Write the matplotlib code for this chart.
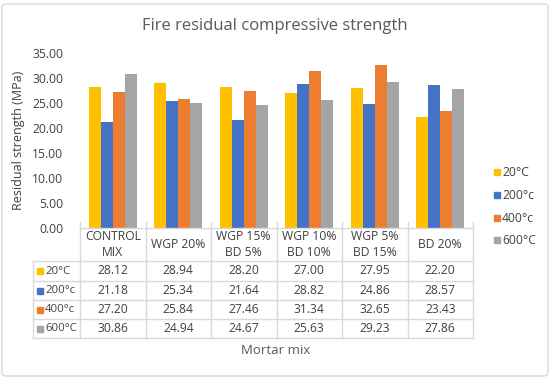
import matplotlib.pyplot as plt
from matplotlib.lines import Line2D
from matplotlib.patches import FancyBboxPatch, Rectangle

plt.rcParams['font.family'] = ['Open Sans', 'DejaVu Sans']

# data
mixes = ["CONTROL\nMIX", "WGP 20%", "WGP 15%\nBD 5%", "WGP 10%\nBD 10%", "WGP 5%\nBD 15%", "BD 20%"]
temps = ["20°C", "200°c", "400°c", "600°C"]
s20 = [28.12, 28.94, 28.20, 27.00, 27.95, 22.20]
s200 = [21.18, 25.34, 21.64, 28.82, 24.86, 28.57]
s400 = [27.20, 25.84, 27.46, 31.34, 32.65, 23.43]
s600 = [30.86, 24.94, 24.67, 25.63, 29.23, 27.86]
series = [s20, s200, s400, s600]
colors = ["#FFC000", "#4472C4", "#ED7D31", "#A5A5A5"]

W, H = 550, 378
fig = plt.figure(figsize=(W / 100, H / 100), dpi=100)


def fx(x):
    return x / W


def fy(y):
    return 1 - y / H


txt = "#404040"
grid = "#D9D9D9"
fs = 8.7

# outer border
fig.add_artist(FancyBboxPatch((fx(2), fy(376)), fx(546), 372 / H,
                              boxstyle="round,pad=0,rounding_size=0.008",
                              transform=fig.transFigure, fill=False,
                              edgecolor="#D9D9D9", linewidth=1))

left, right, top, bottom = 80, 473, 53, 228
ax = fig.add_axes([fx(left), fy(bottom), (right - left) / W, (bottom - top) / H])
bw = 0.185
for k, (vals, c) in enumerate(zip(series, colors)):
    xs = [i + 0.5 + (k - 1.5) * bw for i in range(len(mixes))]
    ax.bar(xs, vals, width=bw, color=c, label=temps[k])
ax.set_xlim(0, len(mixes))
ax.set_ylim(0, 35)
ax.set_yticks(range(0, 36, 5))
ax.set_yticklabels([f"{v:.2f}" for v in range(0, 36, 5)], fontsize=fs, color=txt)
ax.tick_params(axis="y", length=0, pad=12)
ax.set_xticks([])
for s in ax.spines.values():
    s.set_visible(False)
ax.set_ylabel("Residual strength (MPa)", fontsize=9, color=txt, labelpad=5)

fig.text(0.5, fy(26), "Fire residual compressive strength", ha="center", va="center",
         fontsize=12, color="#595959")

# data table
cols = [left + (right - left) * i / len(mixes) for i in range(len(mixes) + 1)]
rows = [261, 281, 300, 319, 338]
lab_left = 33


def line(x0, x1, y0, y1):
    fig.add_artist(Line2D([fx(x0), fx(x1)], [fy(y0), fy(y1)], color=grid, lw=1,
                          transform=fig.transFigure))


line(left, right, bottom, bottom)
for y in rows:
    line(lab_left, right, y, y)
for x in cols:
    line(x, x, bottom - 6, rows[-1])
line(lab_left, lab_left, rows[0], rows[-1])

for i, m in enumerate(mixes):
    cx = (cols[i] + cols[i + 1]) / 2
    fig.text(fx(cx), fy((bottom + rows[0]) / 2), m, ha="center", va="center",
             fontsize=fs, color=txt, linespacing=1.25)
    for k, vals in enumerate(series):
        fig.text(fx(cx), fy((rows[k] + rows[k + 1]) / 2), f"{vals[i]:.2f}",
                 ha="center", va="center", fontsize=fs, color=txt)

for k, t in enumerate(temps):
    cy = (rows[k] + rows[k + 1]) / 2
    fig.add_artist(Rectangle((fx(37), fy(cy + 3)), 6 / W, 6 / H, color=colors[k],
                             transform=fig.transFigure))
    fig.text(fx(45), fy(cy), t, ha="left", va="center", fontsize=8.2, color=txt)

fig.text(fx(276), fy(351), "Mortar mix", ha="center", va="center", fontsize=9.5,
         color="#595959")

# legend
for k, t in enumerate(temps):
    cy = [172, 195, 218, 240][k]
    fig.add_artist(Rectangle((fx(494), fy(cy + 3)), 6 / W, 6 / H, color=colors[k],
                             transform=fig.transFigure))
    fig.text(fx(502), fy(cy), t, ha="left", va="center", fontsize=fs, color=txt)

fig.savefig("out.png", dpi=100)
